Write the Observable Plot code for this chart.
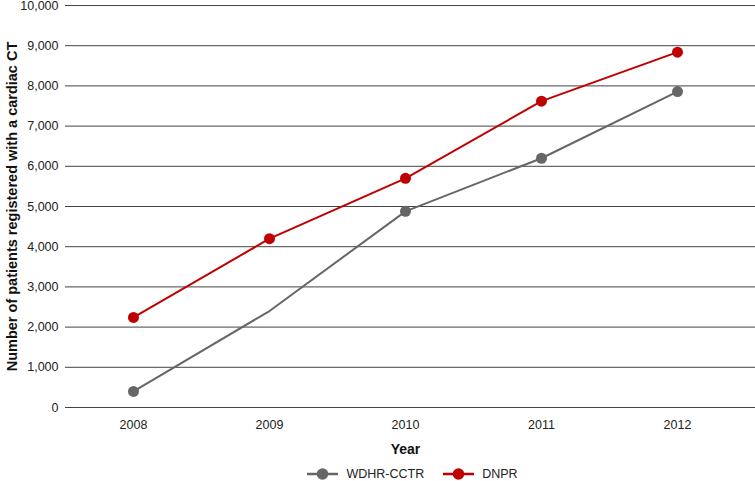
<!DOCTYPE html>
<html>
<head>
<meta charset="utf-8">
<script src="https://cdn.jsdelivr.net/npm/d3@7"></script>
<script src="https://cdn.jsdelivr.net/npm/@observablehq/plot@0.6"></script>
<style>
  body { margin: 0; background: #fff; font-family: "Liberation Sans", Arial, sans-serif; }
  #chart svg { display: block; }
  #legend { display: flex; justify-content: center; align-items: center; gap: 19px; padding-left: 70px; width: 685px; height: 14px; line-height: 14px; font-size: 12.5px; color: #222; overflow: visible; }
  .item { display: flex; align-items: center; gap: 8px; height: 14px; }
  .item svg { display: block; }
</style>
</head>
<body>
<div id="chart"></div>
<div id="legend"></div>
<script>
const years = [2008, 2009, 2010, 2011, 2012];
const seriesNames = ["WDHR-CCTR", "DNPR"];
const seriesColors = ["#666666", "#c00000"];
const wdhrValues = [400, 2400, 4880, 6200, 7860];
const dnprValues = [2240, 4200, 5700, 7620, 8840];
const wdhrMarkers = [true, false, true, true, true];
const dnprMarkers = [true, true, true, true, true];
const yTicks = [0, 1000, 2000, 3000, 4000, 5000, 6000, 7000, 8000, 9000, 10000];

const rows = [];
years.forEach((y, i) => {
  rows.push({year: y, value: wdhrValues[i], series: seriesNames[0], marker: wdhrMarkers[i]});
  rows.push({year: y, value: dnprValues[i], series: seriesNames[1], marker: dnprMarkers[i]});
});

const chart = Plot.plot({
  width: 755,
  height: 467,
  marginTop: 5,
  marginLeft: 65,
  marginRight: 10,
  marginBottom: 60,
  style: { fontFamily: "Liberation Sans, Arial, sans-serif", fontSize: "12.5px", color: "#222" },
  x: { type: "point", domain: years, padding: 0.5, label: null },
  y: { domain: [0, 10000], label: null },
  color: { domain: seriesNames, range: seriesColors },
  marks: [
    Plot.ruleY(yTicks, { stroke: "#444", strokeWidth: 1, insetRight: -10 }),
    Plot.axisY(yTicks, { tickSize: 0, tickPadding: 7, tickFormat: d3.format(","), fontSize: 12.5, label: null }),
    Plot.axisX(years, { tickSize: 0, tickPadding: 13, tickFormat: d => String(d), fontSize: 12.5, label: null }),
    Plot.text(["Year"], { frameAnchor: "bottom", lineAnchor: "middle", dy: 42, fontWeight: "bold", fontSize: 14, fill: "#111" }),
    Plot.text(["Number of patients registered with a cardiac CT"], { frameAnchor: "left", dx: -53, rotate: -90, textAnchor: "middle", fontWeight: "bold", fontSize: 14.5, fill: "#111" }),
    Plot.line(rows, { x: "year", y: "value", stroke: "series", strokeWidth: 2 }),
    Plot.dot(rows.filter(d => d.marker), { x: "year", y: "value", fill: "series", r: 5.5 })
  ]
});
document.getElementById("chart").appendChild(chart);

const legend = document.getElementById("legend");
seriesNames.forEach((name, i) => {
  const item = document.createElement("div");
  item.className = "item";
  item.innerHTML = `<svg width="31" height="14"><line x1="0" x2="31" y1="7" y2="7" stroke="${seriesColors[i]}" stroke-width="2.5"/><circle cx="15.5" cy="7" r="5.8" fill="${seriesColors[i]}"/></svg><span>${name}</span>`;
  legend.appendChild(item);
});
</script>
</body>
</html>
